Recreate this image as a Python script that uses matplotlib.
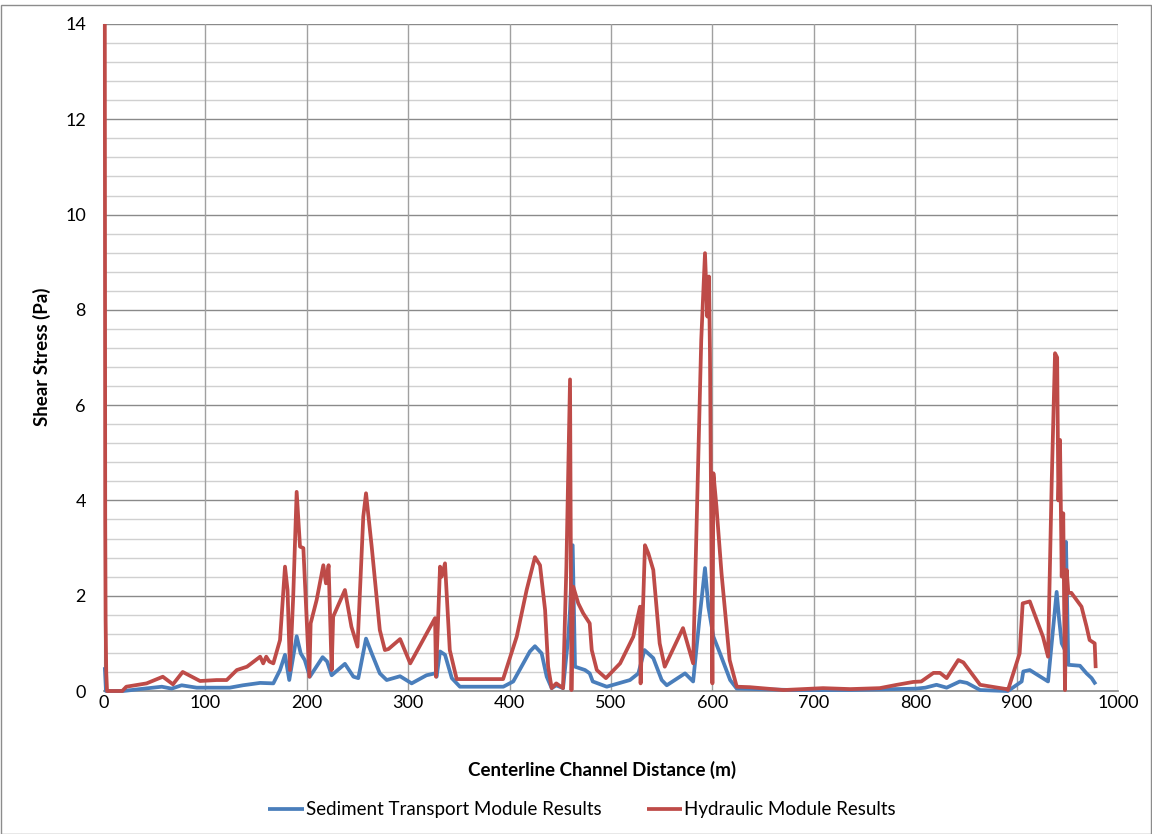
import matplotlib
matplotlib.use("Agg")
import matplotlib.pyplot as plt
from matplotlib.patches import Rectangle

plt.rcParams['font.family'] = ['Lato', 'DejaVu Sans']

# Centerline distance (m) and shear stress (Pa), hydraulic module
hyd_x = [0.8, 1.2, 1.6, 2.2, 3.0, 18, 22, 42, 58, 68, 77.6, 94.7, 111, 121, 131, 141,
         154, 157, 160, 163, 167, 173.6, 178.5, 181, 183.4, 186.6, 190, 193.3, 196.6,
         202.5, 203.8, 209.7, 216.3, 218.9, 221.5, 224.5, 226, 237.6, 244, 250, 255.7,
         258.4, 264, 272, 277, 280.5, 292, 302, 326.5, 327.4, 331.4, 333, 336.3, 341,
         347.8, 393.6, 407, 416.8, 425, 430, 435, 438, 441.5, 446, 452.7, 456, 459.6,
         461, 462.8, 467.7, 472.6, 479, 481, 486, 495, 509, 522, 528.6, 529.2, 533.5,
         536.8, 541.7, 548, 553, 571, 581, 589, 592.7, 595, 596.6, 597.6, 600, 601,
         604, 609, 617, 624, 637, 670, 709, 736, 765, 782, 798, 806, 818, 824.5, 831,
         842.5, 847.5, 864, 890, 891.5, 903, 906, 913, 919.8, 926, 931, 934.6, 937.9,
         940, 941.2, 942.8, 944.5, 946, 947.7, 949.4, 951, 954, 964, 969, 972, 977, 978]
hyd_y = [14.0, 3.6, 1.5, 0.4, 0.0, 0.0, 0.09, 0.16, 0.30, 0.14, 0.40, 0.21, 0.23, 0.23,
         0.44, 0.51, 0.72, 0.58, 0.72, 0.62, 0.58, 1.07, 2.61, 2.12, 0.44, 1.98, 4.18,
         3.03, 3.00, 0.30, 1.42, 1.91, 2.64, 2.26, 2.64, 0.44, 1.56, 2.12, 1.35, 0.93,
         3.66, 4.15, 3.03, 1.28, 0.86, 0.88, 1.09, 0.58, 1.53, 0.30, 2.61, 2.40, 2.68,
         0.86, 0.25, 0.25, 1.14, 2.12, 2.81, 2.64, 1.70, 0.51, 0.06, 0.16, 0.06, 2.60,
         6.54, 0.02, 2.19, 1.84, 1.63, 1.42, 0.86, 0.44, 0.27, 0.58, 1.14, 1.77, 0.16,
         3.06, 2.89, 2.54, 1.00, 0.51, 1.32, 0.58, 7.37, 9.19, 7.86, 8.70, 7.09, 0.16,
         4.57, 3.87, 2.47, 0.65, 0.09, 0.08, 0.02, 0.06, 0.04, 0.06, 0.13, 0.19, 0.20,
         0.38, 0.38, 0.27, 0.65, 0.60, 0.13, 0.04, 0.02, 0.79, 1.84, 1.88, 1.49, 1.14,
         0.72, 4.37, 7.09, 7.00, 4.00, 5.27, 2.40, 3.73, 0.02, 2.54, 2.06, 2.06, 1.77,
         1.35, 1.07, 1.00, 0.48]

# Sediment transport module
sed_x = [0.8, 2.0, 19, 35.5, 57, 66.7, 76.6, 91.4, 124, 137, 154, 167, 173.6, 178.5,
         182.7, 190, 194, 198, 203, 215.6, 220, 224.5, 237.6, 246, 250.8, 258.4, 264,
         272, 278.8, 292, 303.4, 318, 326.4, 328, 331.4, 336.3, 343, 351, 393.8, 403.6,
         420, 425, 431.6, 436.6, 441.5, 446, 452.7, 457.9, 459.6, 462.2, 464.5, 474.4,
         479, 482, 495.8, 518.7, 527, 533, 541.7, 550, 555, 573, 581, 587.8, 592.7,
         596, 601, 607.5, 617.5, 624, 680, 736, 801, 810, 821, 831, 844, 851, 864,
         891.5, 905, 906.6, 913, 931, 934.6, 939.5, 942, 944.5, 947.7, 948.7, 951,
         962.5, 969, 974, 978]
sed_y = [0.5, 0.0, 0.0, 0.04, 0.09, 0.05, 0.12, 0.07, 0.07, 0.12, 0.17, 0.16, 0.44,
         0.76, 0.23, 1.15, 0.79, 0.65, 0.30, 0.71, 0.62, 0.33, 0.57, 0.30, 0.27, 1.10,
         0.79, 0.37, 0.23, 0.31, 0.16, 0.33, 0.37, 0.30, 0.83, 0.76, 0.27, 0.09, 0.09,
         0.20, 0.83, 0.94, 0.79, 0.30, 0.06, 0.12, 0.06, 1.14, 1.70, 3.06, 0.51, 0.44,
         0.37, 0.20, 0.09, 0.23, 0.37, 0.86, 0.69, 0.23, 0.12, 0.37, 0.20, 1.63, 2.58,
         1.77, 1.14, 0.79, 0.23, 0.05, 0.02, 0.02, 0.05, 0.07, 0.13, 0.07, 0.20, 0.17,
         0.02, 0.00, 0.20, 0.41, 0.44, 0.20, 1.00, 2.08, 1.49, 1.00, 0.86, 3.13, 0.55,
         0.53, 0.37, 0.27, 0.14]

x_ticks = list(range(0, 1001, 100))
y_ticks = list(range(0, 15, 2))

W, H = 1152, 834
fig = plt.figure(figsize=(W / 100, H / 100), dpi=100)
fig.patches.append(Rectangle((0.5 / W, 0.5 / H), 1150.5 / W, 829 / H,
                             transform=fig.transFigure, fill=False,
                             edgecolor='#8c8c8c', linewidth=1.0))

ax = fig.add_axes([104 / W, 1 - 691 / H, 1014 / W, 667 / H])
ax.set_xlim(0, 1000)
ax.set_ylim(0, 14)

# grid: minor every 0.4 Pa, major every 2 Pa, verticals every 100 m
for v in [i * 0.4 for i in range(1, 36)]:
    if abs(v / 2 - round(v / 2)) > 1e-6:
        ax.axhline(v, color='#d0d0d0', linewidth=1.0, zorder=0)
for v in y_ticks[1:]:
    ax.axhline(v, color='#8a8a8a', linewidth=1.0, zorder=0.5)
for v in x_ticks[1:]:
    ax.axvline(v, color='#a0a0a0', linewidth=1.0, zorder=0.5)

ax.plot(sed_x, sed_y, color='#4a7ebb', linewidth=2.7, solid_joinstyle='round',
        solid_capstyle='butt', label='Sediment Transport Module Results', zorder=3,
        clip_on=False)
ax.plot(hyd_x, hyd_y, color='#be4b48', linewidth=2.7, solid_joinstyle='round',
        solid_capstyle='butt', label='Hydraulic Module Results', zorder=4,
        clip_on=False)

for s in ['top', 'right']:
    ax.spines[s].set_visible(False)
ax.spines['bottom'].set_color('#868686')
ax.spines['left'].set_color('#868686')
ax.spines['bottom'].set_linewidth(1.2)

ax.set_xticks(x_ticks)
ax.set_yticks(y_ticks)
ax.tick_params(length=0, labelsize=13, colors='black')
ax.tick_params(axis='x', pad=3)
ax.tick_params(axis='y', pad=13)

fig.text(602 / W, 1 - 770 / H, 'Centerline Channel Distance (m)', fontsize=13.5,
         fontweight='bold', ha='center', va='center')
fig.text(42 / W, 1 - 357 / H, 'Shear Stress (Pa)', fontsize=13.5,
         fontweight='bold', ha='center', va='center', rotation=90)

leg = fig.legend(loc='center', bbox_to_anchor=(582 / W, 1 - 810 / H), ncol=2,
                 frameon=False, fontsize=13.5, handlelength=1.9, handletextpad=0.1,
                 columnspacing=2.4)

fig.savefig('out.png', dpi=100)
